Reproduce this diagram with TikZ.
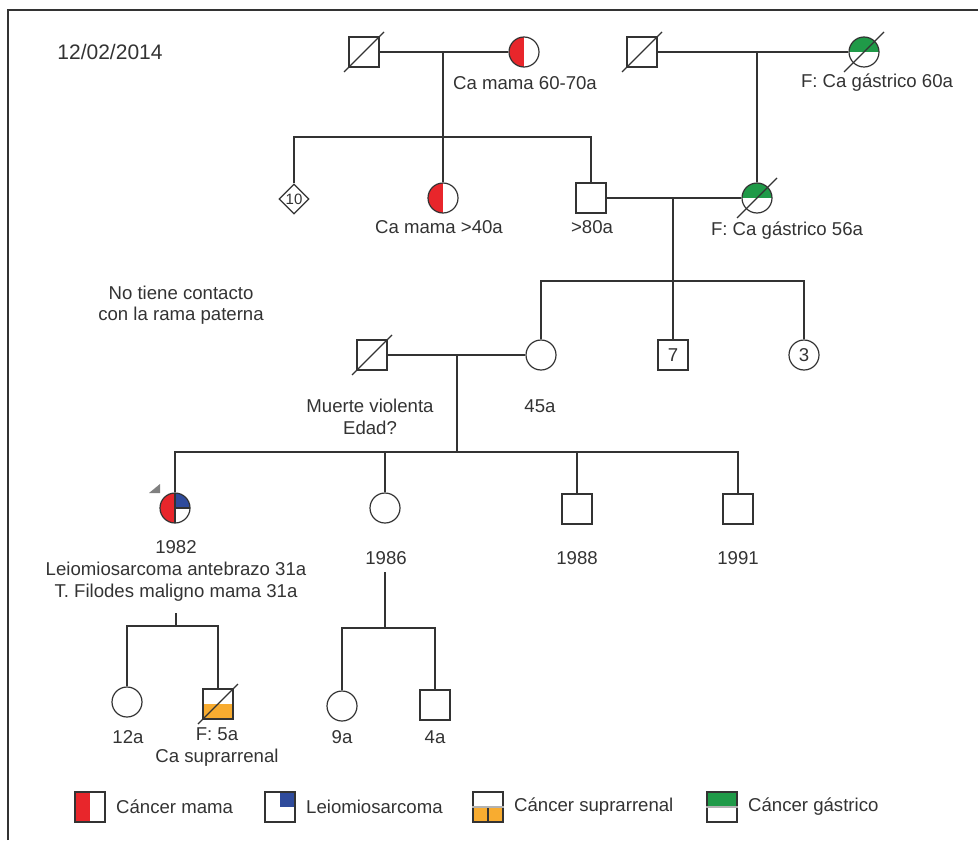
\documentclass[tikz,border=0pt]{standalone}
\usepackage{fontspec}
\setmainfont{Liberation Sans}
\usepackage{tikz}
\usetikzlibrary{shapes.geometric,positioning}
\definecolor{rojo}{HTML}{E8262B}
\definecolor{azul}{HTML}{2F4B9C}
\definecolor{verde}{HTML}{1F9A48}
\definecolor{naranja}{HTML}{F8AC30}
\definecolor{linea}{HTML}{333333}
\newcommand{\fallecido}[1]{\draw ([shift={(-20,20)}]#1.center) -- ([shift={(20,-20)}]#1.center);}

\begin{document}
\begin{tikzpicture}[x=0.5pt, y=-0.5pt, line width=0.6pt, color=linea,
	font=\fontsize{9.3}{10.8}\selectfont,
	varon/.style={draw, rectangle, minimum size=15pt, inner sep=0pt},
	mujer/.style={draw, circle, minimum size=15pt, inner sep=0pt},
	mama/.style={path picture={\fill[rojo] (path picture bounding box.south west) rectangle (path picture bounding box.north);}},
	leio/.style={path picture={\fill[azul] (path picture bounding box.center) rectangle (path picture bounding box.north east);}},
	supra/.style={path picture={\fill[naranja] (path picture bounding box.south west) rectangle (path picture bounding box.east);}},
	gastrico/.style={path picture={\fill[verde] (path picture bounding box.west) rectangle (path picture bounding box.north east);}},
	probando/.style={path picture={
		\fill[rojo] (path picture bounding box.south west) rectangle (path picture bounding box.north);
		\fill[azul] (path picture bounding box.center) rectangle (path picture bounding box.north east);
		\draw (path picture bounding box.north) -- (path picture bounding box.south);
		\draw (path picture bounding box.center) -- (path picture bounding box.east);}},
	leyenda/.style={inner sep=0pt}]

	\useasboundingbox (0,0) rectangle (978,840);
	\draw (8,840) -- (8,10) -- (978,10);

	\node[font=\fontsize{10.5}{12}\selectfont] (Fecha) at (110,52) {12/02/2014};

	\node[varon] (AB1) at (364,52) {};
	\node[mujer, mama] (AA1) at (524,52) {};
	\node (tAA1) at (525,83) {Ca mama 60-70a};
	\node[varon] (AB2) at (642,52) {};
	\node[mujer, gastrico] (AA2) at (864,52) {};
	\node (tAA2) at (877,83) {F: Ca gástrico 60a};

	\node[diamond, draw, inner sep=0pt, minimum size=15pt, font=\fontsize{7.5}{7.5}\selectfont] (H10) at (294,199) {10};
	\node[mujer, mama] (T1) at (443,198) {};
	\node (tT1) at (439,227) {Ca mama >40a};
	\node[varon] (P1) at (591,198) {};
	\node (tP1) at (592,227) {>80a};
	\node[mujer, gastrico] (M1) at (757,198) {};
	\node (tM1) at (787,231) {F: Ca gástrico 56a};

	\node[align=center] (Nota) at (181,305) {No tiene contacto\\con la rama paterna};

	\node[varon] (Pa) at (372,355) {};
	\node[mujer] (Ma) at (541,355) {};
	\node[varon] (H7) at (673,355) {7};
	\node[mujer] (H3) at (804,355) {3};
	\node[align=center] (tPa) at (370,417) {Muerte violenta\\Edad?};
	\node (tMa) at (540,406) {45a};

	\node[mujer, probando] (Pr) at (175,508) {};
	\node[align=center] (tPr) at (176,571) {1982\\Leiomiosarcoma antebrazo 31a\\T. Filodes maligno mama 31a};
	\node[mujer] (H86) at (385,508) {};
	\node (t86) at (386,558) {1986};
	\node[varon] (H88) at (577,509) {};
	\node (t88) at (577,558) {1988};
	\node[varon] (H91) at (738,509) {};
	\node (t91) at (738,558) {1991};

	\node[mujer] (N12) at (127,702) {};
	\node[varon, supra] (N5) at (218,704) {};
	\node (tN12) at (128,737) {12a};
	\node[align=center] (tN5) at (217,747) {F: 5a\\Ca suprarrenal};
	\node[mujer] (N9) at (342,706) {};
	\node[varon] (N4) at (435,705) {};
	\node (tN9) at (342,737) {9a};
	\node (tN4) at (435,737) {4a};

	\coordinate (u1) at (443,52);
	\coordinate (s1) at (443,137);
	\coordinate (u2) at (757,52);
	\coordinate (u3) at (673,198);
	\coordinate (s3) at (673,281);
	\coordinate (u4) at (457,355);
	\coordinate (s4) at (457,452);
	\coordinate (u5) at (176,613);
	\coordinate (s5) at (176,626);
	\coordinate (u6) at (385,572);
	\coordinate (s6) at (385,628);

	\draw (AB1) -- (AA1);
	\draw (u1) -- (s1) -- (T1);
	\draw (H10) |- (s1) -| (P1);
	\draw (AB2) -- (AA2);
	\draw (u2) -- (M1);
	\draw (P1) -- (M1);
	\draw (u3) -- (s3) -- (H7);
	\draw (Ma) |- (s3) -| (H3);
	\draw (Pa) -- (Ma);
	\draw (u4) -- (s4);
	\draw (Pr) |- (s4) -| (H91);
	\draw (s4 -| H86) -- (H86);
	\draw (s4 -| H88) -- (H88);
	\draw (u5) -- (s5);
	\draw (N12) |- (s5) -| (N5);
	\draw (u6) -- (s6);
	\draw (N9) |- (s6) -| (N4);

	\fallecido{AB1}
	\fallecido{AB2}
	\fallecido{AA2}
	\fallecido{M1}
	\fallecido{Pa}
	\fallecido{N5}

	\fill[gray] ([shift={(-26,-15)}]Pr.center) -- ++(11,0) -- ++(0,-9) -- cycle;

	\node[varon, mama] (L1) at (90,807) {};
	\node[leyenda, right=5pt of L1] (tL1) {Cáncer mama};
	\node[varon, leio] (L2) at (280,807) {};
	\node[leyenda, right=5pt of L2] (tL2) {Leiomiosarcoma};
	\node[varon, supra] (L3) at (488,807) {};
	\draw (L3.south) -- (L3.center);
	\draw[gray!60] (L3.west) -- (L3.east);
	\node[leyenda, right=5pt of L3] (tL3) {Cáncer suprarrenal};
	\node[varon, gastrico] (L4) at (722,807) {};
	\draw[gray!60] (L4.west) -- (L4.east);
	\node[leyenda, right=5pt of L4] (tL4) {Cáncer gástrico};
\end{tikzpicture}
\end{document}
